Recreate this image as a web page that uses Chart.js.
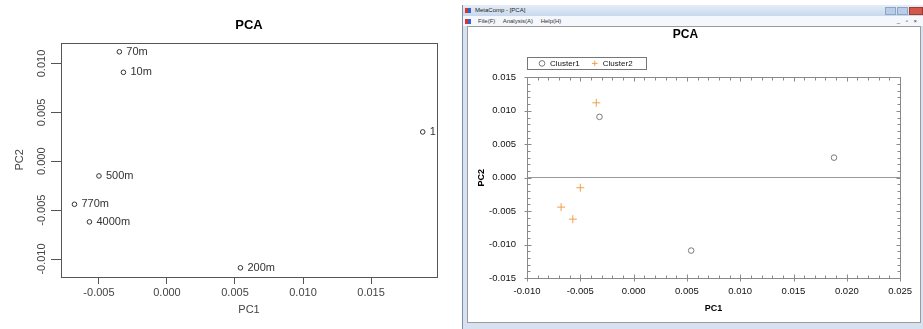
<!DOCTYPE html>
<html>
<head>
<meta charset="utf-8">
<title>PCA</title>
<script src="https://cdn.jsdelivr.net/npm/chart.js@4.4.1/dist/chart.umd.min.js"></script>
<style>
    html, body { margin: 0; padding: 0; background: #fff; }
    body { width: 923px; height: 329px; position: relative; overflow: hidden; font-family: 'Liberation Sans', Arial, sans-serif; }
    #leftChart { position: absolute; left: 0; top: 0; }
    .win { position: absolute; left: 462px; top: 5px; width: 461px; height: 324px; background: #d6e2f0; border-left: 1px solid #7d8fa8; box-sizing: border-box; }
    .titlebar { position: absolute; left: 0; top: 0; right: 0; height: 11px; background: linear-gradient(#e4edf8, #c8d8ec); font-size: 6px; line-height: 11px; color: #222; }
    .titlebar .ico, .menubar .ico { position: absolute; left: 2px; top: 3px; width: 6px; height: 5px; background: linear-gradient(90deg, #d33 50%, #36c 50%); }
    .titlebar .cap { position: absolute; left: 12px; }
    .btns { position: absolute; right: 0; top: 2px; height: 8px; }
    .btns span { display: inline-block; width: 11px; height: 8px; margin-left: 1px; background: #b9cde6; border: 1px solid #8ea6c6; box-sizing: border-box; vertical-align: top; }
    .btns span.close { width: 14px; background: #d2564a; border-color: #a33a30; }
    .menubar { position: absolute; left: 0; top: 11px; right: 0; height: 10px; background: #f4f7fb; font-size: 6px; line-height: 10px; color: #333; }
    .menubar .items { position: absolute; left: 15px; word-spacing: 6px; }
    .menubar .mdi { position: absolute; right: 4px; font-size: 6px; letter-spacing: 2px; }
    .content { position: absolute; left: 4px; top: 21px; width: 454px; height: 297px; background: #fff; border: 1px solid #9c9c9c; box-sizing: border-box; }
    #rightChart { position: absolute; left: 0; top: 0; }
</style>
</head>
<body>
<canvas id="leftChart" width="462" height="329"></canvas>
<div class="win">
    <div class="titlebar"><div class="ico"></div><span class="cap">MetaComp - [PCA]</span>
        <div class="btns"><span></span><span></span><span class="close"></span></div>
    </div>
    <div class="menubar"><div class="ico"></div><span class="items">File(F) Analysis(A) Help(H)</span><span class="mdi">_ ▫ ×</span></div>
    <div class="content"><canvas id="rightChart" width="452" height="295"></canvas></div>
</div>
<script>
// samples
const sampleLabels = ['70m', '10m', '1', '500m', '770m', '4000m', '200m'];
const pc1 = [-0.0035, -0.0032, 0.0188, -0.0050, -0.0068, -0.0057, 0.0054];
const pc2 = [0.0112, 0.0091, 0.0030, -0.0015, -0.0044, -0.0062, -0.0109];
const cluster = [2, 1, 1, 2, 2, 2, 1];
const clusterNames = ['Cluster1', 'Cluster2'];

const points = pc1.map((x, i) => ({ x: x, y: pc2[i] }));
const pointsOf = c => points.filter((p, i) => cluster[i] === c);

const FONT = "'Liberation Sans', Arial, sans-serif";
const fmt = v => v.toFixed(3);
const isMajor = v => Math.abs(v / 0.005 - Math.round(v / 0.005)) < 1e-6;

// ---------- left: R style plot ----------
const rStyle = {
    id: 'rStyle',
    afterDraw(chart) {
        const { ctx, chartArea: a, scales: { y } } = chart;
        ctx.save();
        ctx.strokeStyle = '#555';
        ctx.lineWidth = 1;
        ctx.strokeRect(Math.round(a.left) + 0.5, Math.round(a.top) + 0.5, Math.round(a.right - a.left), Math.round(a.bottom - a.top));

        // y tick labels parallel to the axis
        ctx.fillStyle = '#444';
        ctx.font = '11px ' + FONT;
        ctx.textAlign = 'center';
        ctx.textBaseline = 'middle';
        y.ticks.forEach(t => {
            ctx.save();
            ctx.translate(y.right - 19, y.getPixelForValue(t.value));
            ctx.rotate(-Math.PI / 2);
            ctx.fillText(fmt(t.value), 0, 0);
            ctx.restore();
        });

        // sample names beside each point
        ctx.textAlign = 'left';
        ctx.fillStyle = '#333';
        chart.getDatasetMeta(0).data.forEach((el, i) => {
            ctx.fillText(sampleLabels[i], el.x + 7, el.y);
        });
        ctx.restore();
    }
};

new Chart(document.getElementById('leftChart'), {
    type: 'scatter',
    data: {
        datasets: [{
            data: points,
            pointStyle: 'circle',
            pointRadius: 2.3,
            pointBorderWidth: 1,
            borderColor: '#333',
            backgroundColor: 'rgba(0,0,0,0)'
        }]
    },
    options: {
        responsive: false,
        animation: false,
        events: [],
        layout: { padding: { right: 25 } },
        plugins: {
            legend: { display: false },
            tooltip: { enabled: false },
            title: {
                display: true,
                text: 'PCA',
                fullSize: false,
                color: '#000',
                font: { family: FONT, size: 13, weight: 'bold' },
                padding: { top: 18, bottom: 9 }
            }
        },
        scales: {
            x: {
                type: 'linear',
                min: -0.00779,
                max: 0.01985,
                afterFit: s => { s.height = 52; },
                border: { display: false },
                grid: { drawOnChartArea: false, drawTicks: true, tickLength: 7, color: '#555' },
                ticks: { stepSize: 0.005, includeBounds: false, padding: 2, color: '#444', font: { family: FONT, size: 11 }, callback: v => fmt(v) },
                title: { display: true, text: 'PC1', color: '#444', font: { family: FONT, size: 11 }, padding: { bottom: 12 } }
            },
            y: {
                type: 'linear',
                min: -0.01184,
                max: 0.01214,
                afterFit: s => { s.width = 61; },
                border: { display: false },
                grid: { drawOnChartArea: false, drawTicks: true, tickLength: 10, color: '#555' },
                ticks: { stepSize: 0.005, includeBounds: false, display: false },
                title: { display: true, text: 'PC2', color: '#444', font: { family: FONT, size: 11 }, padding: { top: 13 } }
            }
        }
    },
    plugins: [rStyle]
});

// ---------- right: MetaComp window plot ----------
const frameTicks = {
    id: 'frameTicks',
    afterDraw(chart) {
        const { ctx, chartArea: a, scales: { x, y } } = chart;
        const L = Math.round(a.left) + 0.5, R = Math.round(a.right) + 0.5;
        const T = Math.round(a.top) + 0.5, B = Math.round(a.bottom) + 0.5;
        ctx.save();
        ctx.strokeStyle = '#8a8a8a';
        ctx.lineWidth = 1;
        ctx.strokeRect(L, T, R - L, B - T);
        ctx.beginPath();
        x.ticks.forEach(t => {
            const px = Math.round(x.getPixelForValue(t.value)) + 0.5;
            const m = isMajor(t.value);
            ctx.moveTo(px, B + (m ? 3 : 0)); ctx.lineTo(px, B - (m ? 4 : 3));
            ctx.moveTo(px, T); ctx.lineTo(px, T + (m ? 4 : 3));
        });
        y.ticks.forEach(t => {
            const py = Math.round(y.getPixelForValue(t.value)) + 0.5;
            const m = isMajor(t.value);
            ctx.moveTo(L - (m ? 3 : 0), py); ctx.lineTo(L + (m ? 4 : 3), py);
            ctx.moveTo(R, py); ctx.lineTo(R - (m ? 4 : 3), py);
        });
        ctx.stroke();

        // frame around the legend
        const boxes = chart.legend.legendHitBoxes;
        if (boxes && boxes.length) {
            const first = boxes[0], last = boxes[boxes.length - 1];
            const x0 = Math.round(a.left) + 0.5;
            const x1 = Math.round(last.left + last.width + 13) + 0.5;
            const y0 = Math.round(first.top - 2) + 0.5;
            const y1 = Math.round(first.top + first.height + 2) + 0.5;
            ctx.strokeStyle = '#777';
            ctx.strokeRect(x0, y0, x1 - x0, y1 - y0);
        }
        ctx.restore();
    }
};

new Chart(document.getElementById('rightChart'), {
    type: 'scatter',
    data: {
        datasets: [{
            label: clusterNames[0],
            data: pointsOf(1),
            pointStyle: 'circle',
            pointRadius: 2.8,
            pointBorderWidth: 1,
            borderColor: '#7a7a7a',
            backgroundColor: 'rgba(0,0,0,0)'
        }, {
            label: clusterNames[1],
            data: pointsOf(2),
            pointStyle: 'cross',
            pointRadius: 4,
            pointBorderWidth: 1,
            borderColor: '#eea04c',
            backgroundColor: 'rgba(0,0,0,0)'
        }]
    },
    options: {
        responsive: false,
        animation: false,
        events: [],
        layout: { padding: { right: 17 } },
        plugins: {
            tooltip: { enabled: false },
            title: {
                display: true,
                text: 'PCA',
                color: '#000',
                font: { family: FONT, size: 12, weight: 'bold' },
                padding: { top: 0, bottom: 7 }
            },
            legend: {
                display: true,
                fullSize: false,
                align: 'start',
                labels: { usePointStyle: true, boxWidth: 8, boxHeight: 4, padding: 11, color: '#111', font: { family: FONT, size: 8 } }
            }
        },
        scales: {
            x: {
                type: 'linear',
                min: -0.010,
                max: 0.025,
                afterFit: s => { s.height = 44; },
                border: { display: false },
                grid: { display: false, drawTicks: false },
                ticks: { stepSize: 0.001, autoSkip: false, maxRotation: 0, padding: 8, color: '#111', font: { family: FONT, size: 9.5 }, callback: v => isMajor(v) ? fmt(v) : '' },
                title: { display: true, text: 'PC1', color: '#000', font: { family: FONT, size: 9, weight: 'bold' }, padding: { bottom: 7.6 } }
            },
            y: {
                type: 'linear',
                min: -0.015,
                max: 0.015,
                afterFit: s => { s.width = 59; },
                border: { display: false },
                grid: {
                    drawTicks: false,
                    color: c => (c.tick && Math.abs(c.tick.value) < 1e-9) ? '#9a9a9a' : 'rgba(0,0,0,0)'
                },
                ticks: { stepSize: 0.001, autoSkip: false, padding: 11, color: '#111', font: { family: FONT, size: 9.5 }, callback: v => isMajor(v) ? fmt(v) : '' },
                title: { display: true, text: 'PC2', color: '#000', font: { family: FONT, size: 9, weight: 'bold' }, padding: { top: 8.6 } }
            }
        }
    },
    plugins: [frameTicks]
});
</script>
</body>
</html>
